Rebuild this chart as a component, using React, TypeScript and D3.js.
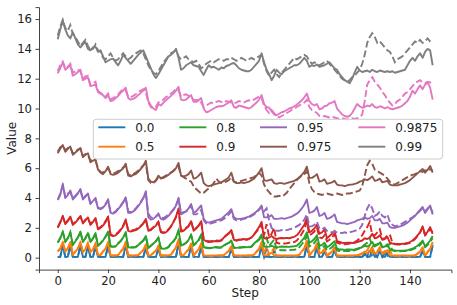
import React, { useEffect, useRef } from 'react';
import * as d3 from 'd3';

const labels = ['0.0', '0.5', '0.8', '0.9', '0.95', '0.975', '0.9875', '0.99'];
const colors = ['#1f77b4', '#ff7f0e', '#2ca02c', '#d62728', '#9467bd', '#8c564b', '#e377c2', '#7f7f7f'];
const xTicks = [0, 20, 40, 60, 80, 100, 120, 140];
const yTicks = [0, 2, 4, 6, 8, 10, 12, 14, 16];

const g000Solid = [
  .05,.05,.85,.05,.05,.85,.05,.05,.05,.85, .05,.05,.77,.05,.05,.77,.05,.05,.05,.05,
  .85,.05,.05,.05,.05,.05,.05,.85,.05,.05, .05,.05,.05,.05,.05,.7,.05,.05,.05,.05,
  .6,.05,.05,.05,.05,.05,.05,.05,1.0,.05, .05,.05,.05,.77,.05,.05,.05,.77,.05,.05,
  .05,.05,.05,.05,.05,.05,.05,.05,.05,.6, .05,.05,.05,.05,.05,.05,.05,.05,.05,.05,
  .05,.85,.05,.05,.05,.05,.05,.05,.05,.05, .05,.05,.05,.05,.05,.05,.05,.05,.05,.93,
  .05,.05,.05,.77,.05,.05,.45,.05,.05,.05, .5,.05,.05,.05,.05,.05,.05,.05,.05,.05,
  .05,.05,.3,.05,.05,.5,.05,.05,.45,.05, .05,.35,.05,.05,.05,.05,.05,.05,.05,.05,
  .05,.05,.05,.05,.05,.5,.05,.05,.05,.85,
];
const g000Dashed = [
  .05,.05,.8,.05,.05,.85,.05,.05,.05,.8, .05,.05,.8,.05,.05,.75,.05,.05,.05,.05,
  .8,.05,.05,.05,.05,.05,.05,.8,.05,.05, .05,.05,.05,.05,.05,.65,.05,.05,.05,.05,
  .6,.05,.05,.05,.05,.05,.05,.05,.95,.05, .05,.05,.05,.75,.05,.05,.05,.7,.05,.05,
  .05,.05,.05,.05,.05,.05,.05,.05,.05,.55, .05,.05,.05,.05,.05,.05,.05,.05,.05,.05,
  .05,.7,.05,.6,.05,.05,.5,.05,.05,.05, .05,.05,.05,.05,.05,.05,.05,.05,.05,.8,
  .05,.05,.05,.7,.05,.05,.4,.05,.05,.05, .45,.05,.05,.05,.05,.05,.05,.05,.05,.05,
  .05,.05,.2,.05,.6,.05,.3,.05,.5,.05, .3,.05,.4,.05,.05,.05,.05,.05,.05,.05,
  .05,.05,.05,.05,.05,.4,.05,.05,.05,.8,
];
const g050Solid = [
  .4,.6,1.05,.4,.6,1.05,.2,.4,.6,1.05, .37,.55,.96,.37,.55,.96,.15,.18,.4,.6,
  1.05,.15,.15,.15,.17,.4,.6,1.05,.15,.15, .15,.15,.17,.35,.51,.87,.15,.16,.32,.47,
  .78,.15,.15,.15,.16,.2,.45,.69,1.23,.15, .17,.37,.55,.96,.15,.37,.55,.96,.15,.14,
  .13,.13,.14,.15,.15,.15,.16,.32,.47,.78, .15,.15,.14,.14,.15,.15,.15,.15,.2,.4,
  .6,1.05,.15,.17,.25,.35,.15,.15,.15,.15, .15,.15,.15,.15,.15,.15,.2,.43,.65,1.14,
  .15,.37,.55,.96,.27,.37,.6,.15,.3,.42, .69,.15,.15,.15,.15,.15,.15,.15,.16,.18,
  .22,.3,.42,.3,.42,.69,.27,.37,.6,.25, .33,.51,.15,.15,.15,.15,.15,.15,.15,.15,
  .15,.15,.16,.3,.42,.69,.15,.4,.6,1.05,
];
const g050Dashed = [
  .42,.62,1.0,.42,.62,1.05,.22,.42,.62,1.0, .38,.57,1.0,.36,.53,.93,.15,.19,.42,.62,
  1.0,.15,.15,.15,.18,.4,.6,1.0,.15,.15, .15,.15,.17,.33,.5,.82,.15,.16,.32,.47,
  .78,.15,.15,.15,.16,.2,.44,.67,1.18,.15, .17,.37,.54,.93,.15,.36,.53,.9,.15,.14,
  .13,.13,.14,.14,.15,.15,.16,.3,.45,.73, .15,.15,.14,.14,.15,.15,.15,.15,.2,.38,
  .55,.9,.3,.75,.2,.4,.65,.12,.12,.12, .12,.12,.12,.12,.12,.12,.18,.4,.6,1.0,
  .13,.35,.52,.9,.22,.3,.55,.12,.25,.38, .63,.12,.12,.12,.12,.12,.12,.12,.13,.15,
  .18,.25,.35,.5,.8,.3,.45,.45,.7,.3, .45,.35,.55,.12,.12,.12,.12,.12,.12,.12,
  .12,.12,.14,.25,.38,.62,.13,.35,.55,.95,
];
const g080Solid = [
  1.0,1.3,1.75,1.05,1.3,1.7,.85,1.1,1.35,1.75, 1.05,1.3,1.65,1.05,1.3,1.65,.8,.95,1.15,1.4,
  1.75,.75,.72,.75,.95,1.1,1.35,1.7,.7,.68, .68,.7,.85,1.0,1.15,1.45,.65,.8,.95,1.1,
  1.35,.62,.6,.62,.7,.95,1.1,1.35,1.85,.8, .9,1.0,1.2,1.55,.85,1.0,1.2,1.55,.7,.68,
  .65,.66,.68,.72,.68,.7,.82,.92,1.0,1.15, .68,.66,.68,.7,.72,.7,.72,.75,.95,1.1,
  1.25,1.55,.75,.72,.74,.8,.72,.7,.72,.75, .73,.74,.72,.75,.77,.8,.95,1.15,1.35,1.7,
  1.0,1.1,1.25,1.5,.8,.85,1.0,.7,.8,.95, 1.1,.6,.55,.55,.52,.55,.55,.53,.55,.6,
  .65,.7,.8,.75,.85,1.05,.75,.85,1.0,.7, .75,.9,.55,.5,.48,.47,.46,.47,.48,.5,
  .55,.6,.7,.8,.95,1.15,.75,.95,1.15,1.45,
];
const g080Dashed = [
  1.02,1.32,1.72,1.08,1.32,1.72,.88,1.12,1.36,1.7, 1.08,1.32,1.68,1.05,1.28,1.6,.82,.97,1.17,1.42,
  1.7,.77,.74,.77,.97,1.12,1.35,1.65,.72,.7, .7,.72,.86,1.0,1.15,1.4,.66,.8,.95,1.1,
  1.33,.63,.62,.63,.72,.95,1.1,1.33,1.8,.8, .88,.98,1.18,1.5,.83,.97,1.15,1.5,.68,.66,
  .63,.64,.66,.7,.66,.68,.8,.9,.98,1.1, .66,.64,.66,.68,.7,.68,.7,.73,.92,1.05,
  1.2,1.4,.9,1.3,.8,1.0,1.2,.55,.52,.5, .5,.5,.5,.52,.53,.56,.7,.9,1.1,1.45,
  .75,.85,1.0,1.25,.6,.62,.8,.5,.58,.7, .9,.48,.45,.45,.44,.45,.45,.46,.5,.55,
  .62,.72,.88,1.0,1.3,.75,.85,.9,1.1,.7, .8,.75,.95,.5,.45,.44,.43,.44,.45,.47,
  .5,.55,.62,.72,.85,1.05,.7,.85,1.05,1.3,
];
const g090Solid = [
  2.0,2.35,2.8,2.25,2.45,2.75,2.2,2.35,2.55,2.8, 2.3,2.5,2.7,2.2,2.4,2.65,1.9,2.0,2.15,2.4,
  2.75,1.5,1.45,1.5,1.65,1.85,2.1,2.55,1.8,1.75, 1.8,1.85,1.95,2.1,2.3,2.6,1.8,1.85,2.0,2.15,
  2.4,1.7,1.65,1.7,1.85,2.1,2.4,2.75,3.3,1.75, 1.8,1.95,2.1,2.45,1.8,1.95,2.15,2.45,1.2,1.1,
  1.05,1.07,1.1,1.12,1.1,1.15,1.35,1.5,1.65,1.85, 1.2,1.15,1.2,1.22,1.25,1.2,1.25,1.35,1.55,1.8,
  2.05,2.4,1.3,1.3,1.35,1.45,1.3,1.25,1.3,1.32, 1.3,1.33,1.3,1.35,1.4,1.5,1.7,1.95,2.2,2.65,
  1.7,1.8,1.95,2.2,1.6,1.7,1.9,1.3,1.45,1.6, 1.8,1.1,1.05,1.0,.98,1.0,1.0,.98,1.0,1.05,
  1.1,1.15,1.3,1.25,1.35,1.6,1.3,1.35,1.5,1.2, 1.25,1.4,1.0,.95,.93,.92,.92,.93,.95,.98,
  1.05,1.15,1.3,1.5,1.7,2.1,1.55,1.75,2.05,1.6,
];
const g090Dashed = [
  2.05,2.4,2.75,2.3,2.5,2.7,2.25,2.4,2.6,2.75, 2.35,2.55,2.65,2.25,2.45,2.6,1.95,2.05,2.2,2.45,
  2.7,1.55,1.5,1.55,1.7,1.9,2.15,2.5,1.85,1.8, 1.85,1.9,2.0,2.15,2.3,2.55,1.85,1.9,2.05,2.2,
  2.4,1.75,1.7,1.75,1.9,2.1,2.4,2.7,3.2,1.8, 1.85,2.0,2.15,2.45,1.85,2.0,2.15,2.4,1.25,1.15,
  1.1,1.1,1.12,1.15,1.13,1.18,1.35,1.5,1.62,1.8, 1.2,1.15,1.2,1.22,1.25,1.22,1.27,1.37,1.55,1.75,
  1.95,2.2,1.5,2.25,1.4,1.6,2.0,1.0,.95,.95, .95,.97,1.0,1.0,1.05,1.15,1.35,1.6,1.9,2.4,
  1.5,1.6,1.75,2.0,1.35,1.3,1.5,1.1,1.2,1.35, 1.6,1.0,.95,.92,.9,.92,.95,.98,1.05,1.15,
  1.3,1.5,1.8,2.05,2.4,1.5,1.5,1.7,1.9,1.25, 1.3,1.5,1.55,1.0,.9,.88,.88,.9,.92,.95,
  1.0,1.1,1.25,1.45,1.7,2.0,1.5,1.7,1.9,1.7,
];
const g095Solid = [
  3.87,4.2,4.94,4.0,4.2,4.5,3.9,4.1,4.3,4.6, 3.9,4.1,4.3,3.6,3.8,4.0,3.3,3.25,3.35,3.55,
  3.9,3.0,2.95,3.05,3.25,3.45,3.7,4.05,3.0,3.0, 3.1,3.25,3.45,3.7,4.0,4.45,2.7,2.55,2.6,2.75,
  2.9,2.6,2.55,2.65,2.8,3.0,3.2,3.5,4.0,2.9, 3.0,3.1,3.3,3.6,3.0,3.1,3.3,3.5,2.6,2.4,
  2.35,2.4,2.45,2.5,2.55,2.6,2.75,2.9,3.05,3.25, 2.7,2.6,2.6,2.62,2.65,2.7,2.75,2.85,2.95,3.1,
  3.25,3.5,2.7,2.7,2.75,2.85,2.6,2.6,2.62,2.65, 2.6,2.65,2.7,2.75,2.85,2.95,3.1,3.3,3.55,3.9,
  3.0,3.05,3.15,3.4,2.8,2.85,3.0,2.6,2.65,2.75, 2.9,2.4,2.35,2.3,2.3,2.25,2.3,2.35,2.4,2.5,
  2.55,2.6,2.7,2.6,2.65,2.8,2.5,2.5,2.6,2.3, 2.3,2.35,2.05,2.0,2.0,2.05,2.1,2.15,2.25,2.35,
  2.5,2.65,2.8,3.0,3.2,3.4,3.0,3.25,3.5,2.9,
];
const g095Dashed = [
  3.9,4.3,4.85,4.1,4.3,4.4,4.0,4.15,4.35,4.5, 3.95,4.15,4.25,3.65,3.8,3.95,3.35,3.3,3.4,3.6,
  3.85,3.05,3.0,3.1,3.3,3.5,3.75,4.0,3.1,3.05, 3.15,3.3,3.5,3.75,4.0,4.3,2.95,2.7,2.65,2.75,
  2.95,2.7,2.65,2.75,2.9,3.05,3.25,3.5,3.9,3.0, 3.05,3.1,3.25,3.5,2.9,2.9,3.0,3.2,2.5,2.3,
  2.25,2.3,2.35,2.4,2.45,2.5,2.6,2.75,2.9,3.1, 2.6,2.5,2.5,2.55,2.6,2.65,2.7,2.8,2.9,3.05,
  3.2,3.4,3.1,3.3,2.5,2.0,1.85,1.8,1.8,1.85, 1.8,1.85,1.9,1.95,2.0,2.1,2.2,2.35,2.55,2.9,
  2.1,2.1,2.2,2.4,1.95,1.9,2.0,1.8,1.75,1.7, 1.75,1.7,1.65,1.65,1.7,1.65,1.7,1.75,1.8,1.85,
  1.95,2.2,2.8,3.3,3.6,3.3,2.8,2.9,3.1,2.8, 2.7,2.9,2.4,2.2,2.1,2.15,2.2,2.3,2.4,2.5,
  2.6,2.7,2.85,3.0,3.15,3.3,3.1,3.3,3.45,3.0,
];
const g0975Solid = [
  7.0,7.3,7.55,7.1,7.3,7.45,6.9,7.05,7.2,7.35, 6.75,6.9,7.0,6.4,6.5,6.6,5.9,5.7,5.6,5.8,
  6.1,5.6,5.55,5.6,5.7,5.85,6.0,6.3,5.5,5.45, 5.55,5.6,5.75,5.95,6.15,6.5,5.3,5.1,5.05,5.2,
  5.5,5.3,5.35,5.45,5.55,5.7,5.8,6.0,6.35,5.5, 5.45,5.5,5.6,5.85,5.3,5.35,5.5,5.7,5.0,4.85,
  4.8,4.85,4.9,4.95,5.0,5.05,5.15,5.25,5.4,5.7, 5.1,5.0,5.0,5.05,5.0,5.05,5.1,5.2,5.3,5.5,
  5.7,6.0,5.2,5.15,5.2,5.25,5.0,4.95,5.0,5.0, 4.95,5.0,5.05,5.1,5.15,5.25,5.4,5.55,5.75,6.1,
  5.35,5.35,5.45,5.6,5.1,5.15,5.25,4.95,5.0,5.05, 5.15,4.9,4.85,4.85,4.8,4.85,4.9,4.9,4.95,5.0,
  5.1,5.15,5.25,5.2,5.3,5.45,5.15,5.2,5.3,5.05, 5.1,5.15,4.9,4.85,4.85,4.85,4.9,4.95,5.0,5.1,
  5.2,5.35,5.5,5.65,5.8,5.95,5.7,5.9,6.15,5.7,
];
const g0975Dashed = [
  7.1,7.4,7.5,7.2,7.35,7.4,7.0,7.1,7.25,7.3, 6.8,6.95,6.9,6.5,6.55,6.5,6.0,5.75,5.7,5.85,
  6.0,5.7,5.65,5.7,5.8,5.9,6.05,6.2,5.6,5.5, 5.6,5.7,5.85,6.0,6.2,6.3,5.2,5.0,5.0,5.15,
  5.4,5.35,5.4,5.5,5.6,5.7,5.85,6.0,6.1,5.5, 5.4,5.3,5.2,5.1,4.8,4.6,4.45,4.3,4.35,4.5,
  4.65,4.8,5.0,5.3,5.1,5.0,5.05,5.1,5.2,5.4, 5.1,5.05,5.1,5.15,5.2,5.25,5.3,5.35,5.4,5.55,
  5.7,5.5,4.9,4.6,4.4,4.2,4.1,4.1,4.15,4.1, 4.2,4.35,4.6,4.8,5.0,5.2,5.35,5.5,5.6,5.8,
  5.0,4.6,4.4,4.3,4.25,4.2,4.25,4.3,4.25,4.2, 4.25,4.3,4.25,4.2,4.25,4.3,4.3,4.35,4.4,4.45,
  4.5,4.8,5.5,6.2,6.5,6.3,5.9,5.8,5.7,5.6, 5.5,5.3,5.1,4.95,4.9,5.0,5.1,5.2,5.3,5.4,
  5.5,5.55,5.6,5.7,5.8,5.75,5.85,5.95,5.9,5.85,
];
const g09875Solid = [
  12.36,12.7,13.1,12.6,12.75,12.9,12.2,12.3,12.45,12.6, 11.9,12.0,12.1,11.5,11.55,11.6,11.1,11.0,10.9,10.7,
  10.9,10.5,10.55,10.7,10.85,11.05,11.2,11.4,10.7,10.6, 10.65,10.75,10.9,11.05,11.2,11.4,10.5,10.2,10.0,9.9,
  10.3,10.2,10.4,10.55,10.7,10.85,11.0,11.2,11.45,10.6, 10.55,10.6,10.75,10.9,10.45,10.45,10.55,10.7,10.0,9.75,
  9.8,9.9,10.0,10.1,10.15,10.15,10.2,10.3,10.4,10.55, 10.1,10.05,10.2,10.15,10.1,10.05,10.0,10.1,10.25,10.4,
  10.6,10.9,10.3,10.1,10.05,9.8,9.6,9.55,9.65,9.75, 9.8,9.9,10.0,10.05,10.15,10.25,10.4,10.55,10.75,11.0,
  10.5,10.3,10.2,10.3,9.95,10.0,10.15,10.2,10.35,10.4, 10.5,10.0,9.8,9.6,9.5,9.45,9.5,9.7,10.0,10.3,
  10.15,10.05,10.1,10.2,10.15,10.3,10.1,10.05,10.15,10.1, 10.0,10.1,10.0,9.95,10.0,10.05,10.1,10.2,10.35,10.5,
  10.8,11.2,11.0,11.3,11.55,11.3,11.6,11.75,11.4,10.6,
];
const g09875Dashed = [
  12.5,12.9,13.15,12.7,12.8,13.0,12.4,12.5,12.6,12.5, 12.0,12.15,12.2,11.6,11.7,11.8,11.2,11.05,10.95,10.8,
  11.0,10.6,10.7,10.8,10.95,11.15,11.3,11.2,10.8,10.75, 10.85,10.95,11.1,11.2,11.3,11.1,10.4,10.1,10.0,10.1,
  10.4,10.5,10.6,10.75,10.9,11.0,11.15,11.3,11.2,10.8, 10.9,10.95,10.85,10.75,10.6,10.55,10.6,10.4,10.1,10.2,
  10.3,10.4,10.35,10.45,10.5,10.45,10.4,10.5,10.45,10.4, 10.35,10.4,10.5,10.45,10.4,10.5,10.55,10.5,10.6,10.7,
  10.8,10.7,10.2,9.9,9.7,9.9,9.7,9.5,9.4,9.5, 9.6,9.7,9.8,9.9,10.0,10.1,10.2,10.3,10.4,10.6,
  10.1,9.9,9.8,9.7,9.5,9.45,9.5,9.45,9.4,9.45, 9.4,9.35,9.3,9.35,9.3,9.25,9.3,9.35,9.3,9.35,
  9.4,9.6,10.5,11.6,11.9,12.1,11.8,11.6,11.4,11.1, 10.9,10.6,10.4,10.2,10.3,10.5,10.6,10.8,11.0,11.1,
  11.3,11.5,11.7,11.8,11.9,11.75,11.7,11.8,11.75,11.6,
];
const g099Solid = [
  14.65,15.3,15.9,15.3,14.9,14.7,15.1,14.7,14.3,14.1, 14.3,14.45,14.0,13.9,14.1,14.15,13.8,13.9,13.5,13.1,
  13.2,13.3,13.35,13.1,12.9,13.2,13.6,13.4,13.2,13.0, 13.2,13.4,13.6,13.75,13.9,13.5,13.1,12.7,12.3,12.05,
  12.3,12.6,12.9,13.2,13.5,13.6,13.75,14.0,13.4,12.6, 12.7,12.9,13.0,13.1,12.9,12.85,12.8,12.5,12.25,12.6,
  12.9,12.75,12.8,12.7,12.6,12.75,12.7,12.85,12.9,13.0, 13.05,12.9,12.7,12.6,12.55,12.5,12.5,12.6,12.8,13.0,
  13.2,13.7,13.1,12.6,12.3,11.9,12.2,12.6,12.4,12.3, 12.5,12.6,12.7,12.8,12.9,12.9,13.0,13.2,13.4,13.2,
  12.8,12.9,12.85,12.95,12.8,12.85,12.9,13.0,13.1,12.9, 12.7,12.6,12.3,12.1,11.9,11.8,11.7,12.0,12.4,12.8,
  12.55,12.45,12.5,12.55,12.45,12.6,12.5,12.45,12.55,12.5, 12.45,12.5,12.45,12.5,12.4,12.45,12.5,12.55,12.6,12.9,
  13.2,13.4,13.2,13.5,13.7,13.4,13.8,14.0,13.9,12.9,
];
const g099Dashed = [
  14.9,15.5,15.95,15.4,15.2,15.6,15.0,14.8,14.5,14.2, 14.4,14.6,14.2,13.9,14.0,14.3,13.9,13.8,13.4,13.3,
  13.5,13.7,13.4,13.2,13.3,13.5,13.7,13.5,13.3,13.4, 13.6,13.7,13.8,13.9,13.7,13.3,12.9,12.6,12.4,12.3,
  12.5,12.8,13.1,13.3,13.5,13.7,13.8,13.9,13.5,13.3, 13.4,13.5,13.3,13.2,13.1,13.2,13.0,12.7,12.8,13.0,
  13.1,13.2,13.1,13.2,13.3,13.3,13.2,13.3,13.3,13.4, 13.3,13.2,13.3,13.4,13.3,13.2,13.3,13.4,13.3,13.4,
  13.5,13.6,13.0,12.5,12.2,12.4,12.6,12.3,12.1,12.4, 12.6,12.8,13.0,13.2,13.4,13.3,13.4,13.5,13.6,13.5,
  13.2,13.0,13.1,13.0,12.9,13.0,13.1,13.2,13.0,12.8, 12.6,12.4,12.2,12.0,11.9,11.8,11.9,12.1,12.2,12.4,
  12.6,13.0,13.6,14.4,14.8,15.05,14.8,14.4,14.5,14.3, 14.1,13.9,13.8,13.5,13.1,13.3,13.4,13.5,13.7,13.9,
  14.1,14.3,14.5,14.4,14.6,14.4,14.5,14.7,14.5,14.4,
];

const solidSeries = [g000Solid, g050Solid, g080Solid, g090Solid, g095Solid, g0975Solid, g09875Solid, g099Solid];
const dashedSeries = [g000Dashed, g050Dashed, g080Dashed, g090Dashed, g095Dashed, g0975Dashed, g09875Dashed, g099Dashed];

// legend layout (4 columns, filled column by column)
const legendCols = [98.3, 179.3, 260, 358.3];
const legendRows = [127.3, 146.7];

const Chart = () => {
  const ref = useRef(null);

  useEffect(() => {
    const svg = d3.select(ref.current);
    svg.selectAll('*').remove();

    const left = 39, right = 451.4, top = 7.1, bottom = 269.6;
    const font = 'DejaVu Sans, sans-serif';

    const x = d3.scaleLinear().domain([-7.45, 156.45]).range([left, right]);
    const y = d3.scaleLinear().domain([-0.8, 16.8]).range([bottom, top]);

    const line = d3.line()
      .x((d, i) => x(i))
      .y(d => y(d));

    const plot = svg.append('g');
    solidSeries.forEach((vals, k) => {
      plot.append('path')
        .datum(vals)
        .attr('d', line)
        .attr('fill', 'none')
        .attr('stroke', colors[k])
        .attr('stroke-width', 1.9)
        .attr('stroke-linejoin', 'round');
      plot.append('path')
        .datum(dashedSeries[k])
        .attr('d', line)
        .attr('fill', 'none')
        .attr('stroke', colors[k])
        .attr('stroke-width', 1.9)
        .attr('stroke-dasharray', '7,3');
    });

    const xAxis = svg.append('g')
      .attr('transform', `translate(0, ${bottom})`)
      .call(d3.axisBottom(x).tickValues(xTicks).tickSizeOuter(0).tickSize(3.5).tickPadding(3.5));
    const yAxis = svg.append('g')
      .attr('transform', `translate(${left}, 0)`)
      .call(d3.axisLeft(y).tickValues(yTicks).tickSizeOuter(0).tickSize(3.5).tickPadding(3.5));

    [xAxis, yAxis].forEach(ax => {
      ax.select('.domain').attr('stroke', '#444').attr('stroke-width', 1);
      ax.selectAll('.tick line').attr('stroke', '#444');
      ax.selectAll('.tick text')
        .attr('fill', '#222')
        .style('font-family', font)
        .style('font-size', '11.7px');
    });

    svg.append('text')
      .attr('x', (left + right) / 2)
      .attr('y', 297)
      .attr('text-anchor', 'middle')
      .style('font-family', font)
      .style('font-size', '12px')
      .attr('fill', '#222')
      .text('Step');

    svg.append('text')
      .attr('transform', `translate(16, ${(top + bottom) / 2}) rotate(-90)`)
      .attr('text-anchor', 'middle')
      .style('font-family', font)
      .style('font-size', '12px')
      .attr('fill', '#222')
      .text('Value');

    const legend = svg.append('g');
    legend.append('rect')
      .attr('x', 93.3).attr('y', 119.3)
      .attr('width', 349.4).attr('height', 39.7)
      .attr('rx', 3)
      .attr('fill', 'white').attr('fill-opacity', 0.8)
      .attr('stroke', '#cccccc').attr('stroke-width', 1);

    labels.forEach((lab, k) => {
      const cx = legendCols[Math.floor(k / 2)];
      const cy = legendRows[k % 2];
      legend.append('line')
        .attr('x1', cx).attr('x2', cx + 27)
        .attr('y1', cy).attr('y2', cy)
        .attr('stroke', colors[k]).attr('stroke-width', 1.9);
      legend.append('text')
        .attr('x', cx + 37).attr('y', cy)
        .attr('dy', '0.36em')
        .style('font-family', font)
        .style('font-size', '12px')
        .attr('fill', '#222')
        .text(lab);
    });
  }, []);

  return (
    <svg ref={ref} width={457} height={305} style={{ position: 'absolute', left: 0, top: 0, background: 'white' }}></svg>
  );
};

export default function App() {
  return <Chart />;
}
